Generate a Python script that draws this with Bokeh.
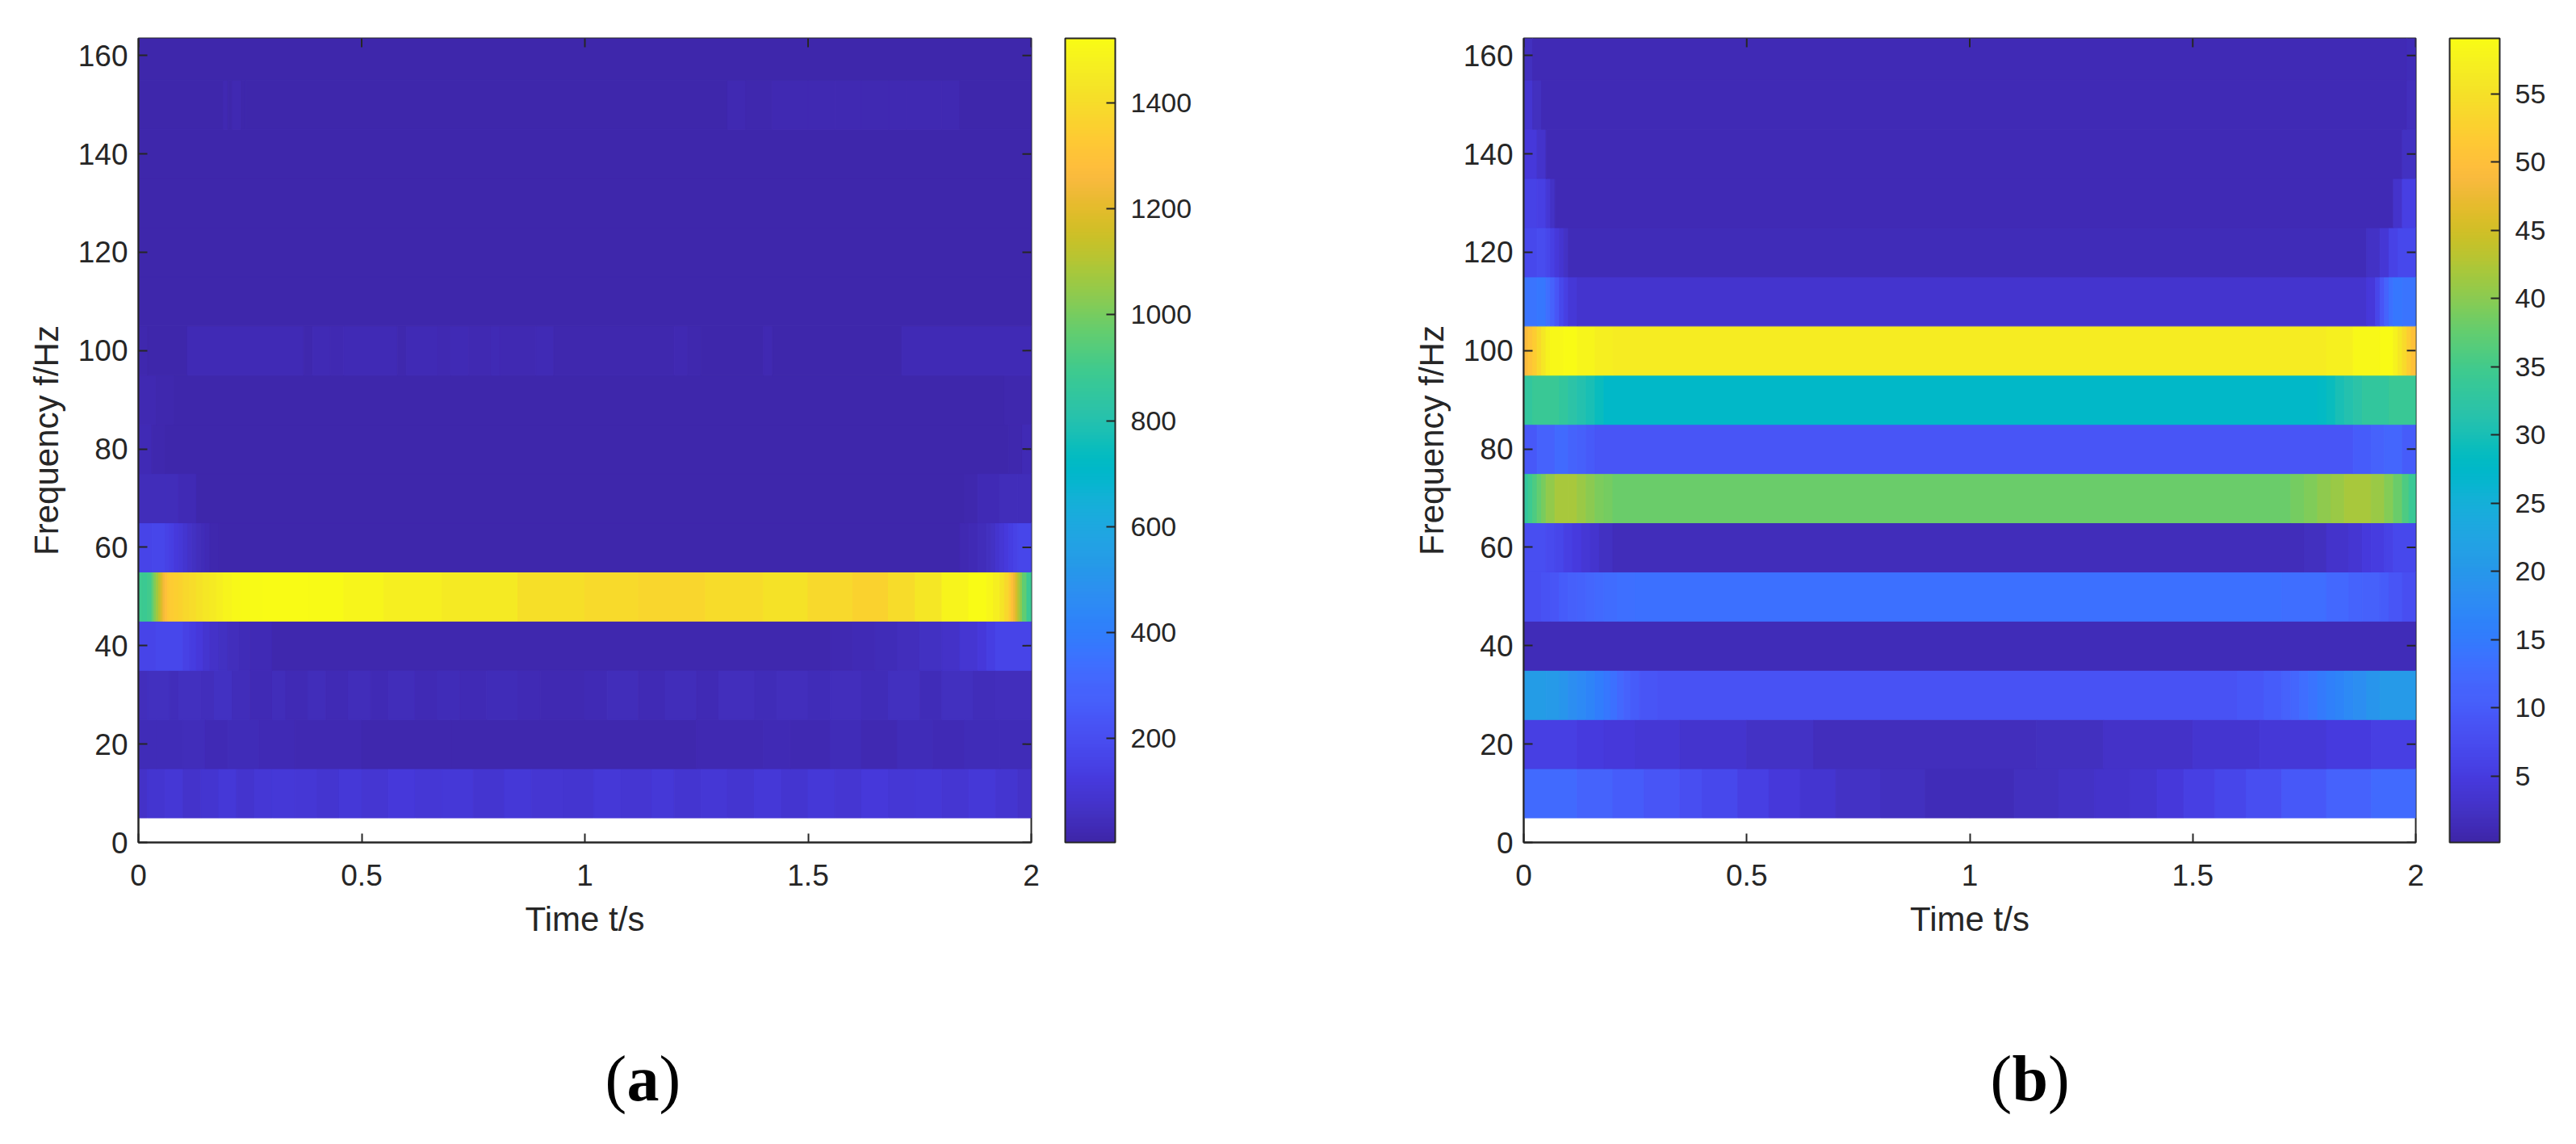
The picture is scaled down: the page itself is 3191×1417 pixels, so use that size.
from bokeh.embed import file_html
from bokeh.resources import INLINE
from bokeh.layouts import row, column
from bokeh.models import (ColumnDataSource, LinearColorMapper, ColorBar, FixedTicker, Range1d, Label)
from bokeh.plotting import figure
from bokeh.transform import transform

PARULA_64 = ["#3e26a8","#402aB5","#4230bf","#4433cb","#4537d5","#463ade","#4741e5","#4747eb","#484df0","#4852f4",
"#4758f8","#4660fb","#4563fc","#4269fe","#3e6fff","#3875fe","#327cfc","#2f81fa","#2d87f7","#2d8cf3",
"#2b91ef","#2796eb","#259be7","#23a0e5","#20a5e2","#1ca9df","#18addb","#12b1d6","#08b5d0","#01b8ca",
"#02bac3","#0bbdbc","#19bfb5","#24c1ae","#2cc3a7","#31c69f","#37c897","#3fca8e","#4acb84","#57cc7a",
"#63cd6f","#71cc64","#80cc59","#8fca4e","#9dc943","#abc739","#b9c431","#c5c22a","#d1bf27","#dcbd29",
"#e6bb2d","#efba36","#f8ba3d","#febe3c","#fec338","#fec934","#fccf30","#f9d62d","#f7dc2a","#f5e227",
"#f5e924","#f6ef20","#f7f51b","#f9fb15"]


def fine_palette(cols, sub=4):
    out = []
    for c0, c1 in zip(cols[:-1], cols[1:]):
        a = [int(c0[i:i + 2], 16) for i in (1, 3, 5)]
        b = [int(c1[i:i + 2], 16) for i in (1, 3, 5)]
        for k in range(sub):
            out.append("#%02x%02x%02x" % tuple(round(a[j] + (b[j] - a[j]) * k / sub) for j in range(3)))
    out.append(cols[-1].lower())
    return out


PARULA = fine_palette(PARULA_64)

# Panel (a): each row is a frequency band; edges are in seconds, values in colourbar units
a_f160_t = [0, 2]
a_f160_v = [14]
a_f150_t = [0, 0.19, 0.2, 0.21, 0.23, 0.24, 1.32, 1.36, 1.42, 1.5, 1.56, 1.62, 1.68, 1.72, 1.8, 1.84, 2]
a_f150_v = [14, 24, 14, 24, 14, 14, 24, 21, 26, 24, 27, 23, 27, 24, 26, 14]
a_f140_t = [0, 2]
a_f140_v = [14]
a_f130_t = [0, 2]
a_f130_v = [14]
a_f120_t = [0, 2]
a_f120_v = [14]
a_f110_t = [0, 2]
a_f110_v = [14]
a_f100_t = [0, 0.02, 0.11, 0.37, 0.39, 0.43, 0.46, 0.58, 0.6, 0.67, 0.7, 0.74, 0.79, 0.81, 0.89, 0.93, 1.2, 1.23, 1.26, 1.4, 1.42, 1.71, 2]
a_f100_v = [20, 15, 32, 20, 32, 24, 32, 20, 30, 24, 30, 22, 32, 24, 32, 16, 24, 16, 15, 24, 15, 32]
a_f90_t = [0, 0.04, 0.08, 1.94, 2]
a_f90_v = [24, 18, 14, 20]
a_f80_t = [0, 0.03, 0.06, 1.95, 1.98, 2]
a_f80_v = [28, 20, 14, 20, 28]
a_f70_t = [0, 0.06, 0.09, 0.13, 1.85, 1.88, 1.93, 1.97, 2]
a_f70_v = [44, 40, 28, 14, 20, 28, 40, 44]
a_f60_t = [0, 0.03, 0.06, 0.07, 0.08, 0.09, 0.1, 0.11, 0.12, 0.13, 0.14, 0.15, 0.16, 0.18, 1.84, 1.86, 1.88, 1.9, 1.91, 1.92, 1.93, 1.94, 1.95, 1.96, 1.97, 2]
a_f60_v = [160, 168, 155, 140, 122, 106, 90, 74, 60, 46, 36, 28, 20, 14, 22, 30, 40, 54, 68, 84, 100, 120, 140, 155, 168]
a_f50_t = [0, 0.01, 0.02, 0.03, 0.035, 0.04, 0.045, 0.05, 0.055, 0.06, 0.065, 0.07, 0.08, 0.09, 0.1, 0.115, 0.13, 0.145, 0.16, 0.175, 0.19, 0.21, 0.23, 0.28, 0.38, 0.46, 0.55, 0.68, 0.85, 1.0, 1.12, 1.27, 1.4, 1.5, 1.6, 1.68, 1.74, 1.8, 1.86, 1.9, 1.915, 1.93, 1.94, 1.95, 1.955, 1.96, 1.965, 1.97, 1.975, 1.98, 1.99, 2]
a_f50_v = [890, 880, 900, 960, 1020, 1070, 1120, 1180, 1240, 1290, 1320, 1340, 1350, 1365, 1380, 1400, 1420, 1440, 1455, 1470, 1490, 1505, 1515, 1522, 1510, 1495, 1470, 1450, 1410, 1390, 1375, 1400, 1420, 1385, 1365, 1400, 1440, 1490, 1522, 1500, 1470, 1430, 1380, 1340, 1290, 1230, 1170, 1100, 1040, 960, 880]
a_f40_t = [0, 0.04, 0.1, 0.115, 0.13, 0.145, 0.16, 0.18, 0.2, 0.225, 0.25, 0.3, 1.55, 1.6, 1.65, 1.7, 1.75, 1.8, 1.84, 1.88, 1.9, 1.92, 2]
a_f40_v = [165, 172, 152, 132, 112, 92, 74, 58, 46, 36, 28, 20, 26, 30, 38, 48, 60, 74, 95, 116, 136, 160]
a_f30_t = [0, 0.02, 0.07, 0.09, 0.14, 0.17, 0.21, 0.25, 0.3, 0.33, 0.38, 0.42, 0.47, 0.52, 0.56, 0.62, 0.67, 0.72, 0.78, 0.85, 0.9, 1.0, 1.05, 1.12, 1.18, 1.25, 1.3, 1.38, 1.43, 1.5, 1.55, 1.62, 1.68, 1.75, 1.8, 1.87, 1.92, 2]
a_f30_v = [46, 54, 44, 56, 46, 58, 44, 32, 44, 32, 42, 30, 44, 32, 40, 32, 38, 28, 38, 28, 26, 30, 42, 30, 44, 32, 46, 34, 48, 34, 50, 36, 52, 38, 54, 40, 50]
a_f20_t = [0, 0.04, 0.1, 0.15, 0.2, 0.27, 0.35, 0.5, 0.7, 1.0, 1.25, 1.4, 1.46, 1.55, 1.62, 1.7, 1.78, 1.85, 1.93, 2]
a_f20_v = [38, 34, 40, 32, 36, 28, 22, 20, 18, 20, 22, 30, 24, 34, 26, 36, 30, 38, 34]
a_f10_t = [0, 0.02, 0.06, 0.1, 0.14, 0.18, 0.22, 0.26, 0.3, 0.35, 0.4, 0.45, 0.5, 0.56, 0.62, 0.68, 0.75, 0.82, 0.88, 0.95, 1.02, 1.08, 1.15, 1.2, 1.26, 1.32, 1.38, 1.44, 1.5, 1.56, 1.62, 1.68, 1.74, 1.8, 1.86, 1.92, 1.97, 2]
a_f10_v = [70, 92, 104, 80, 92, 106, 84, 100, 110, 100, 90, 108, 94, 112, 100, 106, 92, 108, 98, 88, 106, 94, 110, 90, 104, 92, 106, 88, 108, 94, 112, 100, 106, 96, 106, 90, 74]

# Panel (b)
b_f160_t = [0, 0.02, 1.98, 2]
b_f160_v = [2.2, 1.2, 1.5]
b_f150_t = [0, 0.02, 0.04, 1.98, 2]
b_f150_v = [3.5, 2.2, 1.2, 1.8]
b_f140_t = [0, 0.03, 0.05, 1.97, 2]
b_f140_v = [4.5, 3, 1.2, 2.4]
b_f130_t = [0, 0.03, 0.05, 0.06, 0.07, 1.95, 1.97, 2]
b_f130_v = [6, 5.5, 4, 2.5, 1.2, 3, 5.5]
b_f120_t = [0, 0.03, 0.05, 0.06, 0.07, 0.08, 0.09, 0.1, 1.89, 1.92, 1.94, 1.96, 2]
b_f120_v = [7, 7.5, 6.5, 5.5, 4.5, 3.5, 2.5, 1.5, 2.5, 4, 6, 7]
b_f110_t = [0, 0.03, 0.05, 0.06, 0.07, 0.08, 0.09, 0.1, 0.12, 1.89, 1.91, 1.92, 1.93, 1.94, 1.95, 1.97, 2]
b_f110_v = [14, 14.5, 13, 11, 9, 7, 5.5, 4.2, 3.2, 4.5, 6.5, 9, 11.5, 13.5, 14.5, 14]
b_f100_t = [0, 0.01, 0.02, 0.03, 0.04, 0.05, 0.06, 0.09, 0.12, 0.16, 0.2, 1.8, 1.86, 1.92, 1.95, 1.96, 1.97, 1.98, 1.99, 2]
b_f100_v = [49, 50.5, 52, 54, 56, 57.5, 58.5, 59, 58, 57, 56.5, 57.2, 58.5, 59, 57.5, 56, 54, 52, 50]
b_f90_t = [0, 0.02, 0.08, 0.1, 0.12, 0.14, 0.16, 0.18, 1.78, 1.8, 1.82, 1.84, 1.86, 1.88, 1.94, 2]
b_f90_v = [33, 34, 33, 32, 31, 30, 29, 27.5, 28, 29, 30, 31, 32, 33, 34]
b_f80_t = [0, 0.03, 0.07, 0.1, 0.12, 0.14, 0.16, 1.86, 1.9, 1.93, 1.97, 2]
b_f80_v = [9.5, 11, 12.5, 11.5, 10.5, 9.8, 9.2, 10, 11, 12, 10]
b_f70_t = [0, 0.01, 0.02, 0.03, 0.04, 0.05, 0.07, 0.1, 0.12, 0.14, 0.16, 0.18, 0.2, 1.72, 1.75, 1.78, 1.81, 1.84, 1.9, 1.93, 1.95, 1.97, 1.985, 2]
b_f70_v = [33, 34.5, 36, 37.5, 39, 40.5, 42, 42, 41, 40, 39.2, 38.6, 38, 38.6, 39.4, 40.2, 41, 42, 41, 39.5, 38, 36, 34]
b_f60_t = [0, 0.05, 0.07, 0.09, 0.11, 0.13, 0.15, 0.17, 0.2, 1.75, 1.8, 1.85, 1.88, 1.9, 1.93, 1.95, 2]
b_f60_v = [8, 7.2, 6.5, 5.6, 4.8, 4, 3.2, 2.4, 1.7, 2.2, 3, 3.8, 4.6, 5.2, 6, 7]
b_f50_t = [0, 0.04, 0.06, 0.08, 0.1, 0.12, 0.14, 0.16, 0.18, 0.21, 0.25, 1.7, 1.8, 1.85, 1.88, 1.92, 1.94, 1.97, 2]
b_f50_v = [8, 8.6, 9.2, 10, 10.6, 11.2, 11.8, 12.3, 12.8, 13.2, 13.5, 13, 12.2, 11.5, 10.8, 10, 9, 8]
b_f40_t = [0, 2]
b_f40_v = [1.5]
b_f30_t = [0, 0.05, 0.08, 0.1, 0.12, 0.14, 0.16, 0.18, 0.195, 0.21, 0.225, 0.24, 0.26, 0.3, 1.6, 1.66, 1.7, 1.72, 1.74, 1.76, 1.78, 1.8, 1.82, 1.84, 1.86, 1.89, 1.92, 2]
b_f30_v = [21, 20.5, 19.5, 18.5, 17.5, 16.5, 15.5, 14.5, 13.5, 12.2, 11, 10, 9.2, 8.7, 9.3, 10, 11, 12, 13, 14, 15, 15.8, 16.5, 17.5, 18.5, 19.5, 20.5]
b_f20_t = [0, 0.12, 0.18, 0.25, 0.35, 0.5, 0.65, 1.15, 1.3, 1.5, 1.65, 1.8, 1.9, 2]
b_f20_v = [5.5, 5, 4.5, 4, 3.2, 2.6, 1.8, 2.2, 2.8, 3.4, 4.2, 5, 5.5]
b_f10_t = [0, 0.12, 0.2, 0.27, 0.35, 0.4, 0.48, 0.55, 0.62, 0.7, 0.8, 0.9, 1.0, 1.1, 1.2, 1.28, 1.36, 1.42, 1.48, 1.55, 1.62, 1.7, 1.8, 1.9, 2]
b_f10_v = [12.5, 11.5, 10, 9, 8, 7, 5.5, 4.5, 3.5, 2.5, 2, 1.5, 1.5, 2, 2.5, 3, 3.5, 4.5, 5.5, 6.5, 8, 9.5, 11, 12.5]

a_rows = [(10, a_f10_t, a_f10_v), (20, a_f20_t, a_f20_v), (30, a_f30_t, a_f30_v), (40, a_f40_t, a_f40_v),
          (50, a_f50_t, a_f50_v), (60, a_f60_t, a_f60_v), (70, a_f70_t, a_f70_v), (80, a_f80_t, a_f80_v),
          (90, a_f90_t, a_f90_v), (100, a_f100_t, a_f100_v), (110, a_f110_t, a_f110_v), (120, a_f120_t, a_f120_v),
          (130, a_f130_t, a_f130_v), (140, a_f140_t, a_f140_v), (150, a_f150_t, a_f150_v), (160, a_f160_t, a_f160_v)]
b_rows = [(10, b_f10_t, b_f10_v), (20, b_f20_t, b_f20_v), (30, b_f30_t, b_f30_v), (40, b_f40_t, b_f40_v),
          (50, b_f50_t, b_f50_v), (60, b_f60_t, b_f60_v), (70, b_f70_t, b_f70_v), (80, b_f80_t, b_f80_v),
          (90, b_f90_t, b_f90_v), (100, b_f100_t, b_f100_v), (110, b_f110_t, b_f110_v), (120, b_f120_t, b_f120_v),
          (130, b_f130_t, b_f130_v), (140, b_f140_t, b_f140_v), (150, b_f150_t, b_f150_v), (160, b_f160_t, b_f160_v)]

a_low, a_high = 4, 1522
b_low, b_high = 0.13, 59.06
a_cb_ticks = [200, 400, 600, 800, 1000, 1200, 1400]
b_cb_ticks = [5, 10, 15, 20, 25, 30, 35, 40, 45, 50, 55]
x_ticks = [0, 0.5, 1, 1.5, 2]
x_labels = {0: "0", 0.5: "0.5", 1: "1", 1.5: "1.5", 2: "2"}
y_ticks = [0, 20, 40, 60, 80, 100, 120, 140, 160]
y_top = 163.5
INK = "#262626"
TOP_H = 1230


def panel(rows, low, high, cb_ticks, width, left_border, right_border, frame_w):
    left, right, bottom, top, val = [], [], [], [], []
    for f, t, v in rows:
        for i, x in enumerate(v):
            left.append(t[i]); right.append(t[i + 1])
            bottom.append(f - 5); top.append(f + 5); val.append(x)
    src = ColumnDataSource(dict(left=left, right=right, bottom=bottom, top=top, val=val))
    mapper = LinearColorMapper(palette=PARULA, low=low, high=high)
    p = figure(frame_width=frame_w, frame_height=996, width=width, height=TOP_H,
               min_border_left=left_border, min_border_top=47, min_border_bottom=TOP_H - 47 - 996,
               min_border_right=right_border,
               x_range=Range1d(0, 2), y_range=Range1d(0, y_top), output_backend="svg", toolbar_location=None,
               background_fill_color="white", outline_line_color=INK, outline_line_width=2)
    p.grid.visible = False
    p.quad(left="left", right="right", bottom="bottom", top="top", source=src,
           fill_color=transform("val", mapper), line_color=transform("val", mapper), line_width=1)
    for ax, ticks in ((p.xaxis[0], x_ticks), (p.yaxis[0], y_ticks)):
        ax.ticker = FixedTicker(ticks=ticks)
        ax.major_tick_in = 11
        ax.major_tick_out = 0
        ax.minor_tick_line_color = None
        ax.major_tick_line_color = INK
        ax.major_tick_line_width = 2
        ax.axis_line_color = INK
        ax.axis_line_width = 2
        ax.major_label_text_font = "Liberation Sans"
        ax.major_label_text_font_size = "37px"
        ax.major_label_text_color = INK
        ax.axis_label_text_font = "Liberation Sans"
        ax.axis_label_text_font_size = "42px"
        ax.axis_label_text_font_style = "normal"
        ax.axis_label_text_color = INK
    p.xaxis[0].major_label_overrides = x_labels
    p.xaxis[0].axis_label = "Time t/s"
    p.yaxis[0].axis_label = "Frequency f/Hz"
    p.xaxis[0].major_label_standoff = 27
    p.yaxis[0].major_label_standoff = 13
    p.xaxis[0].axis_label_standoff = 15
    p.yaxis[0].axis_label_standoff = 13
    # tick marks on the top and right edges of the box
    px_x, px_y = 2 / frame_w, y_top / 996
    p.segment(x0=x_ticks, x1=x_ticks, y0=[y_top] * len(x_ticks), y1=[y_top - 11 * px_y] * len(x_ticks),
              line_color=INK, line_width=2)
    p.segment(x0=[2] * len(y_ticks), x1=[2 - 11 * px_x] * len(y_ticks), y0=y_ticks, y1=y_ticks,
              line_color=INK, line_width=2)
    cb = ColorBar(color_mapper=mapper, ticker=FixedTicker(ticks=cb_ticks), width=62, height=996,
                  padding=0, margin=0, location=(42, 0), major_tick_in=11, major_tick_line_color=INK,
                  major_tick_line_width=2, minor_tick_line_color=None, bar_line_color=INK, bar_line_width=2,
                  major_label_text_font="Liberation Sans", major_label_text_font_size="34px",
                  major_label_text_color=INK, label_standoff=19)
    p.add_layout(cb, "right")
    return p


p1 = panel(a_rows, a_low, a_high, a_cb_ticks, 1724, 171, 447, 1106)
p2 = panel(b_rows, b_low, b_high, b_cb_ticks, 1459, 163, 191, 1105)

# Strip under both panels holding the "(a)" and "(b)" captions; one data unit is one pixel
cap = figure(width=3183, height=178, x_range=Range1d(0, 3183), y_range=Range1d(0, 178), min_border=0,
             x_axis_location=None, y_axis_location=None, output_backend="svg", toolbar_location=None,
             outline_line_color=None)
cap.grid.visible = False
kw = dict(y=73, text_font="Liberation Serif", text_font_size="80px", text_color="black", text_baseline="alphabetic")
for x0, letter, adv in ((749, "a", 40), (2465, "b", 44.5)):
    cap.add_layout(Label(x=x0, text="(", **kw))
    cap.add_layout(Label(x=x0 + 27, text=letter, text_font_style="bold", **kw))
    cap.add_layout(Label(x=x0 + 27 + adv, text=")", **kw))

layout = column(row(p1, p2, spacing=0), cap, spacing=0)
open("out.html", "w").write(file_html(layout, INLINE))
